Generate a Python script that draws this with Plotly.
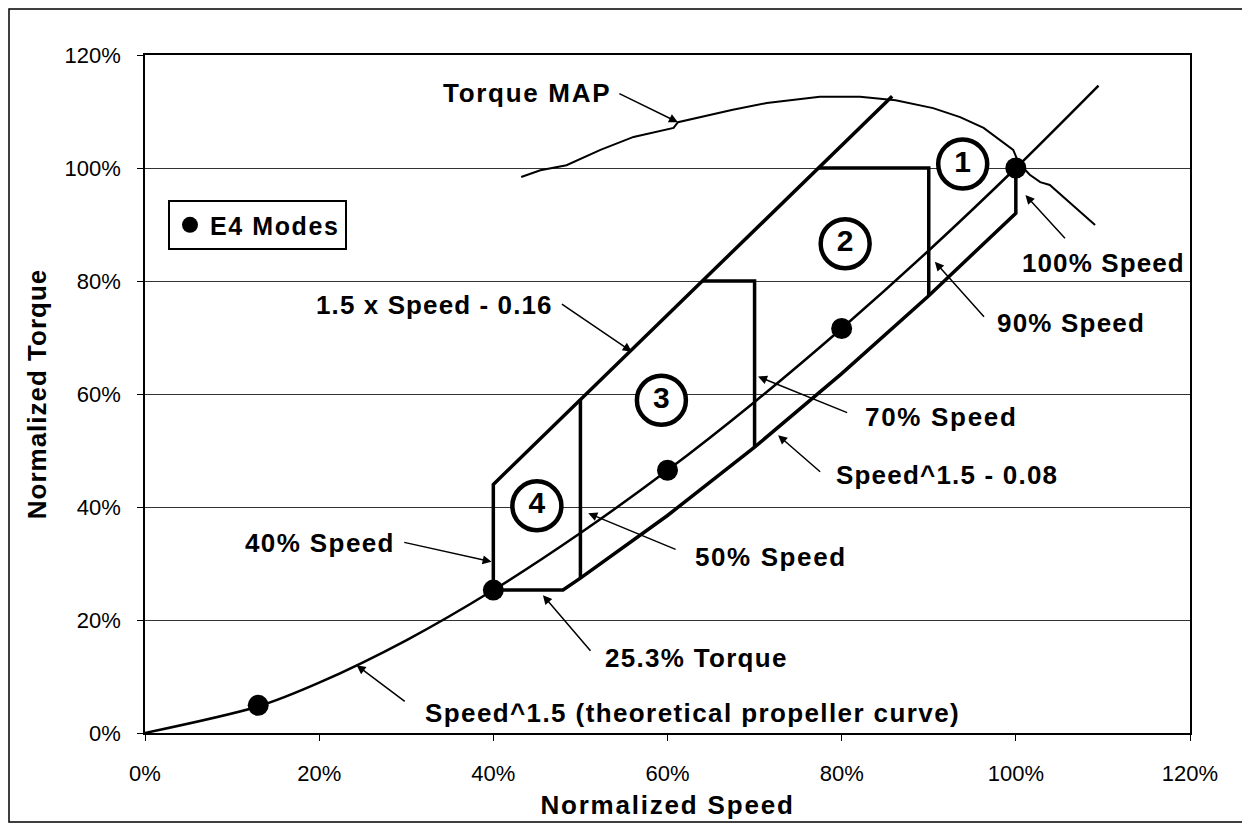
import plotly.graph_objects as go

# ---------------- data ----------------
prop_speed = [0, 0.13, 0.2, 0.3, 0.4, 0.5, 0.6, 0.7, 0.8, 0.9, 1.0, 1.095]
prop_torque = [0, 0.047, 0.089, 0.164, 0.253, 0.354, 0.465, 0.586, 0.716, 0.854, 1.0, 1.146]

mode_speed = [0.13, 0.4, 0.6, 0.8, 1.0]
mode_torque = [0.049, 0.253, 0.465, 0.716, 1.0]

upper_speed = [0.4, 0.4, 0.858]
upper_torque = [0.253, 0.44, 1.127]

lower_speed = [0.4, 0.48, 0.5, 0.6, 0.7, 0.8, 0.9, 1.0, 1.0]
lower_torque = [0.253, 0.253, 0.274, 0.385, 0.506, 0.636, 0.774, 0.92, 1.0]

b50_speed = [0.5, 0.5]
b50_torque = [0.274, 0.59]
b70_speed = [0.7, 0.7, 0.64]
b70_torque = [0.506, 0.80, 0.80]
b90_speed = [0.9, 0.9, 0.773]
b90_torque = [0.774, 1.0, 1.0]

map_speed = [0.432, 0.444, 0.454, 0.484, 0.523, 0.561, 0.607, 0.612, 0.637, 0.675,
             0.714, 0.752, 0.775, 0.821, 0.862, 0.905, 0.936, 0.963, 0.982, 0.997,
             1.003, 1.016, 1.028, 1.039, 1.091]
map_torque = [0.984, 0.99, 0.996, 1.005, 1.032, 1.055, 1.071, 1.081, 1.090, 1.103,
              1.115, 1.122, 1.126, 1.126, 1.12, 1.106, 1.09, 1.071, 1.05, 1.032,
              1.01, 0.988, 0.975, 0.970, 0.899]

circle_labels = ["1", "2", "3", "4"]
circle_speed = [0.939, 0.804, 0.593, 0.450]
circle_torque = [1.007, 0.866, 0.589, 0.402]

# label text, text x, text y, anchor, letter spacing, arrow tail (x,y), arrow head (x,y)
labels = [
    ("Torque MAP", 0.537, 1.133, "right", 1.7, (0.543, 1.133), (0.612, 1.081)),
    ("1.5 x Speed - 0.16", 0.471, 0.758, "right", 1.1, (0.477, 0.761), (0.559, 0.675)),
    ("100% Speed", 1.005, 0.832, "left", 1.1, (1.058, 0.873), (1.011, 0.952)),
    ("90% Speed", 0.976, 0.726, "left", 1.2, (0.965, 0.734), (0.907, 0.834)),
    ("70% Speed", 0.8245, 0.559, "left", 1.7, (0.808, 0.566), (0.704, 0.631)),
    ("Speed^1.5 - 0.08", 0.791, 0.457, "left", 1.2, (0.777, 0.460), (0.727, 0.527)),
    ("50% Speed", 0.629, 0.312, "left", 1.6, (0.611, 0.324), (0.509, 0.389)),
    ("40% Speed", 0.289, 0.336, "right", 1.4, (0.296, 0.338), (0.398, 0.303)),
    ("25.3% Torque", 0.526, 0.133, "left", 1.3, (0.513, 0.143), (0.457, 0.244)),
    ("Speed^1.5 (theoretical propeller curve)", 0.319, 0.035, "left", 1.4,
     (0.300, 0.054), (0.243, 0.120)),
]

FONT = "Arial, Liberation Sans, sans-serif"


def spaced(t, sp=1.3):
    return '<span style="letter-spacing:%.1fpx">%s</span>' % (sp, t)


fig = go.Figure()

thick = dict(color="black", width=3.5)

fig.add_trace(go.Scatter(x=map_speed, y=map_torque, mode="lines",
                         line=dict(color="black", width=2), showlegend=False, hoverinfo="skip"))
fig.add_trace(go.Scatter(x=prop_speed, y=prop_torque, mode="lines",
                         line=dict(color="black", width=2.5, shape="spline", smoothing=0.8),
                         showlegend=False, hoverinfo="skip"))
for xs, ys in [(upper_speed, upper_torque), (lower_speed, lower_torque),
               (b50_speed, b50_torque), (b70_speed, b70_torque), (b90_speed, b90_torque)]:
    fig.add_trace(go.Scatter(x=xs, y=ys, mode="lines", line=thick,
                             showlegend=False, hoverinfo="skip"))

fig.add_trace(go.Scatter(x=mode_speed, y=mode_torque, mode="markers",
                         marker=dict(color="black", size=21),
                         name="<b>" + spaced("E4 Modes", 1.6) + "</b>", showlegend=True))

fig.add_trace(go.Scatter(x=circle_speed, y=circle_torque, mode="markers+text",
                         text=["<b>%s</b>" % c for c in circle_labels],
                         textposition="middle center",
                         textfont=dict(family=FONT, size=30, color="black"),
                         marker=dict(symbol="circle", size=49, color="white",
                                     line=dict(color="black", width=4.5)),
                         showlegend=False, hoverinfo="skip"))

annotations = []
for text, tx, ty, anchor, sp, tail, head in labels:
    annotations.append(dict(x=tx, y=ty, xref="x", yref="y",
                            text="<b>" + spaced(text, sp) + "</b>",
                            showarrow=False, xanchor=anchor, yanchor="middle",
                            font=dict(family=FONT, size=26, color="black")))
    annotations.append(dict(x=head[0], y=head[1], ax=tail[0], ay=tail[1],
                            xref="x", yref="y", axref="x", ayref="y", text="",
                            showarrow=True, arrowhead=2, arrowsize=1.2, arrowwidth=1.5,
                            arrowcolor="black", standoff=0))

W, H = 1237, 815
ML, MR, MT, MB = 137, 55, 47, 90
PW, PH = W - ML - MR, H - MT - MB
shapes = [dict(type="rect", xref="paper", yref="paper",
               x0=-(ML - 1) / PW, x1=1 + (MR - 1) / PW,
               y0=-(MB - 1) / PH, y1=1 + (MT - 1) / PH,
               line=dict(color="black", width=1.5), fillcolor="rgba(0,0,0,0)", layer="below")]

fig.update_layout(
    width=W, height=H,
    margin=dict(l=ML, r=MR, t=MT, b=MB, autoexpand=False),
    paper_bgcolor="white", plot_bgcolor="white",
    font=dict(family=FONT, color="black"),
    annotations=annotations,
    shapes=shapes,
    legend=dict(x=0.022, y=0.786, xanchor="left", yanchor="top",
                bordercolor="black", borderwidth=2, bgcolor="white",
                font=dict(family=FONT, size=25, color="black"),
                itemsizing="trace", tracegroupgap=0),
    xaxis=dict(range=[0, 1.2], dtick=0.2, tick0=0, tickformat=".0%", automargin=False,
               showgrid=False, zeroline=False, showline=True, linecolor="black", linewidth=1.5,
               mirror=True, ticks="outside", ticklen=6, tickcolor="black",
               ticklabelstandoff=14,
               tickfont=dict(family=FONT, size=22),
               title=dict(text="<b>" + spaced("Normalized Speed", 1.8) + "</b>",
                          font=dict(family=FONT, size=26), standoff=11)),
    yaxis=dict(range=[0, 1.2], dtick=0.2, tick0=0, tickformat=".0%", automargin=False,
               showgrid=True, gridcolor="#333", gridwidth=1, zeroline=False,
               showline=True, linecolor="black", linewidth=1.5, mirror=True,
               ticks="outside", ticklen=6, tickcolor="black",
               ticklabelstandoff=12,
               tickfont=dict(family=FONT, size=22),
               title=dict(text="<b>" + spaced("Normalized Torque", 1.0) + "</b>",
                          font=dict(family=FONT, size=26), standoff=10)),
)

fig.write_html("out.html")
